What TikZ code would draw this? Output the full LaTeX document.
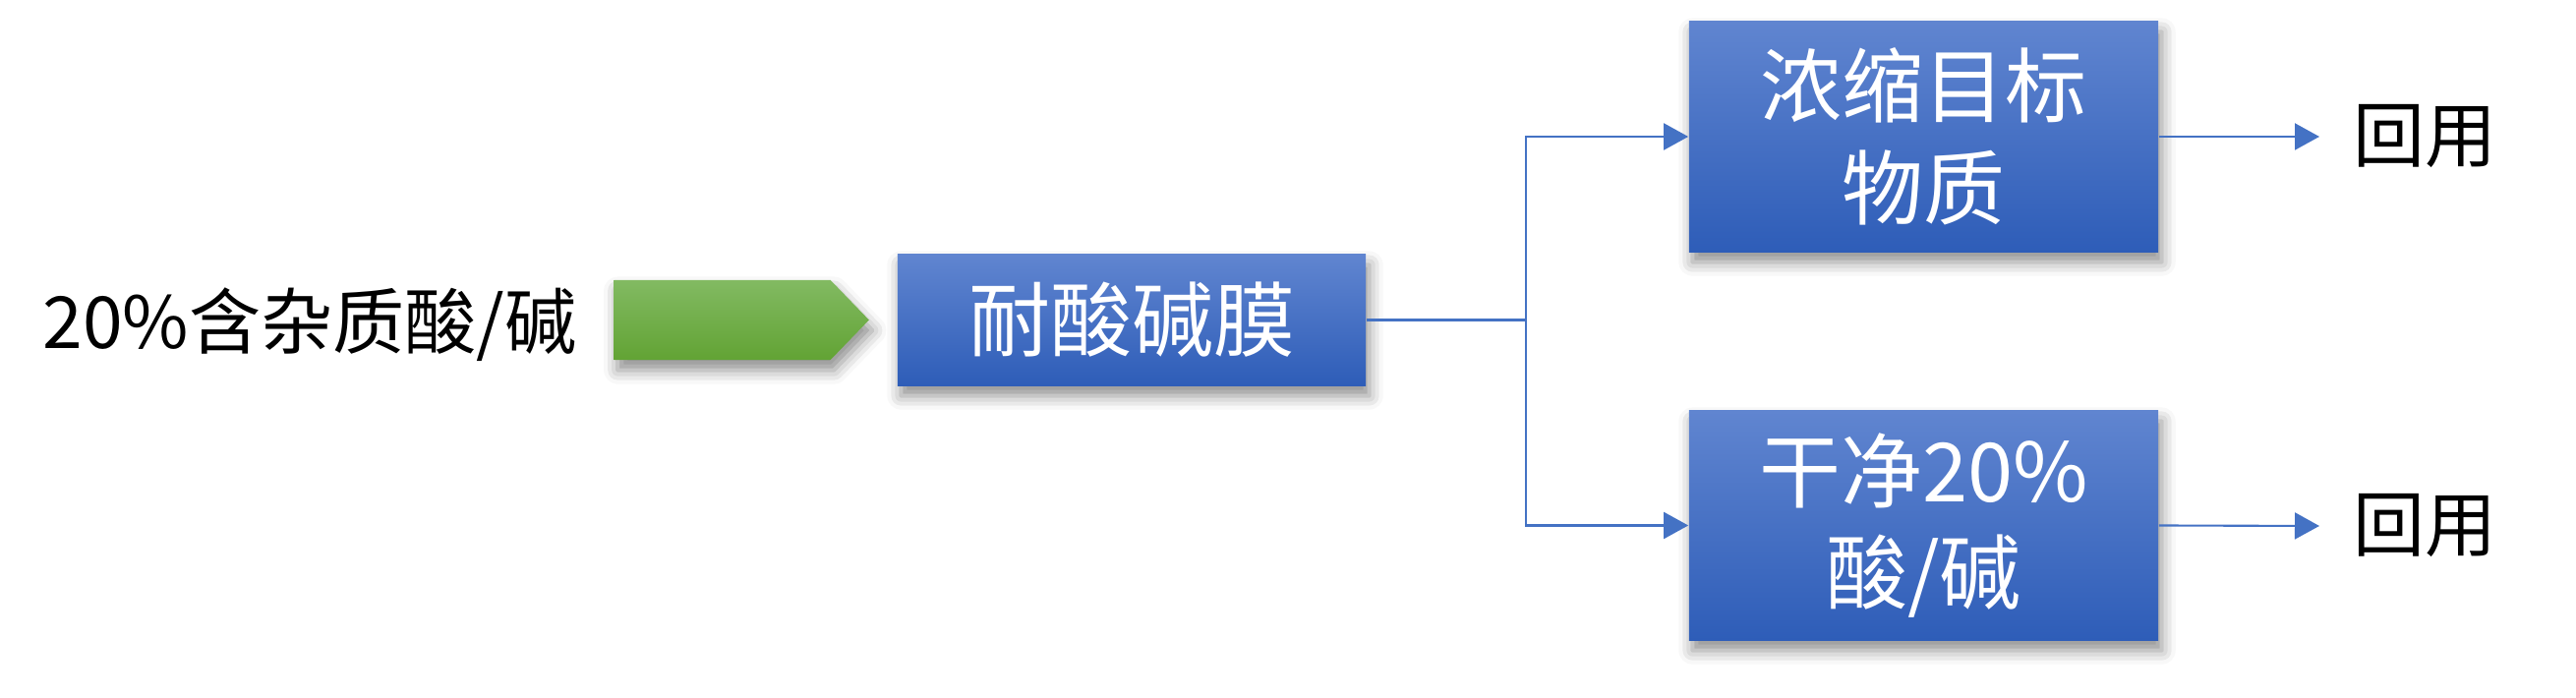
\documentclass[tikz,border=0pt]{standalone}
\usepackage{fontspec}
\setmainfont{Noto Sans CJK SC}
\usetikzlibrary{arrows.meta,shapes.symbols,shadows.blur}
\definecolor{boxtop}{RGB}{96,133,208}
\definecolor{boxbot}{RGB}{46,93,184}
\definecolor{grtop}{RGB}{130,186,98}
\definecolor{grbot}{RGB}{98,163,52}
\definecolor{linec}{RGB}{68,114,196}
\tikzset{
  bluebox/.style={rectangle, inner sep=0pt, top color=boxtop, bottom color=boxbot, draw=none,
    text=white, align=center, font=\fontsize{23.6}{29.5}\selectfont,
    blur shadow={shadow xshift=1pt, shadow yshift=-3pt, shadow blur radius=4pt, shadow opacity=45}},
  greenarrow/.style={signal, signal to=east, signal pointer angle=92, inner sep=0pt,
    top color=grtop, bottom color=grbot, draw=none,
    blur shadow={shadow xshift=1pt, shadow yshift=-3pt, shadow blur radius=4pt, shadow opacity=45}},
  plain/.style={inner sep=0pt, text=black},
  conn/.style={draw=linec, line width=0.6pt, -{Triangle[length=0.25cm,width=0.27cm]}},
  connline/.style={draw=linec, line width=0.6pt},
}
\begin{document}
\begin{tikzpicture}[x=0.01cm,y=-0.01cm]
\useasboundingbox (0,0) rectangle (2620,710);
\node[plain, font=\fontsize{20.8}{25}\selectfont] (src) at (315,330) {20\%含杂质酸/碱};
\node[greenarrow, minimum width=2.59cm, minimum height=0.81cm, anchor=west] (ga) at (624,325.5) {};
\node[bluebox, minimum width=4.76cm, minimum height=1.33cm] (mem) at (1151,325.5) {耐酸碱膜};
\node[bluebox, minimum width=4.77cm, minimum height=2.34cm] (conc) at (1956.5,139) {浓缩目标\\物质};
\node[bluebox, minimum width=4.77cm, minimum height=2.33cm] (clean) at (1956.5,534.5) {干净20\%\\酸/碱};
\node[plain, font=\fontsize{20.7}{25}\selectfont] (r1) at (2466,139) {回用};
\node[plain, font=\fontsize{20.7}{25}\selectfont] (r2) at (2466,535) {回用};
\coordinate (j) at (1552,325.5);
\coordinate (e1) at (2359,139);
\coordinate (e2) at (2359,535);
\draw[connline] (mem.east) -- (j);
\draw[conn] (j) |- (conc.west);
\draw[conn] (j) |- (clean.west);
\draw[conn] (conc.east) -- (e1);
\draw[conn] (clean.east) -- (e2);
\end{tikzpicture}
\end{document}
